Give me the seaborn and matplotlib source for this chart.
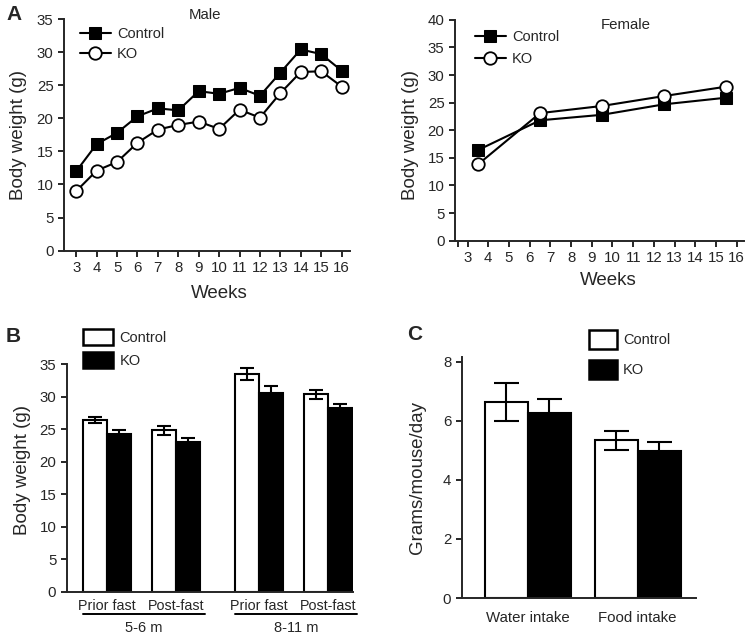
import numpy as np
import pandas as pd
import matplotlib
matplotlib.use("Agg")
import matplotlib.pyplot as plt
import seaborn as sns
from matplotlib.patches import Patch

# ============================================================
# Data
# ============================================================
weeks_male   = [3, 4, 5, 6, 7, 8, 9, 10, 11, 12, 13, 14, 15, 16]
male_control = [12.0, 16.1, 17.8, 20.3, 21.5, 21.2, 24.1, 23.7, 24.6, 23.4, 26.9, 30.4, 29.7, 27.2]
male_ko      = [9.0, 12.1, 13.4, 16.3, 18.3, 19.0, 19.5, 18.4, 21.3, 20.1, 23.8, 27.0, 27.1, 24.8]

weeks_female   = [3.5, 6.5, 9.5, 12.5, 15.5]
female_control = [16.4, 21.8, 22.8, 24.7, 25.9]
female_ko      = [13.8, 23.1, 24.4, 26.2, 27.9]

fast_labels   = ["Prior fast", "Post-fast", "Prior fast", "Post-fast"]
fast_pos      = [0.0, 1.0, 2.2, 3.2]
fast_control  = [26.4, 24.8, 33.5, 30.4]
fast_ctrl_err = [0.5, 0.7, 0.9, 0.7]
fast_ko       = [24.3, 23.1, 30.5, 28.2]
fast_ko_err   = [0.6, 0.6, 1.1, 0.7]
age_groups    = ["5-6 m", "8-11 m"]

intake_labels   = ["Water intake", "Food intake"]
intake_control  = [6.64, 5.34]
intake_ctrl_err = [0.65, 0.33]
intake_ko       = [6.25, 4.99]
intake_ko_err   = [0.49, 0.28]

groups = ["Control", "KO"]

# ============================================================
# Style
# ============================================================
sns.set_style("ticks")
plt.rcParams['font.family'] = ['Liberation Sans', 'DejaVu Sans']
plt.rcParams['axes.linewidth'] = 1.4
plt.rcParams['xtick.major.width'] = 1.4
plt.rcParams['ytick.major.width'] = 1.4
plt.rcParams['xtick.minor.width'] = 1.4
plt.rcParams['xtick.major.size'] = 4
plt.rcParams['xtick.minor.size'] = 4
plt.rcParams['ytick.major.size'] = 4
plt.rcParams['xtick.labelsize'] = 10.8
plt.rcParams['ytick.labelsize'] = 10.8
plt.rcParams['axes.labelsize'] = 13.5

fig = plt.figure(figsize=(7.52, 6.4), dpi=100)
ax_m = fig.add_axes([0.0851, 0.6083, 0.380, 0.362])
ax_f = fig.add_axes([0.605, 0.624, 0.384, 0.345])
ax_b = fig.add_axes([0.0887, 0.0755, 0.381, 0.3555])
ax_c = fig.add_axes([0.614, 0.0656, 0.3115, 0.376])


def line_panel(ax, x, ctrl, ko, ylim, title, tx, ty, leg_anchor, spacing):
    sns.lineplot(x=x, y=ctrl, ax=ax, color='black', linewidth=1.5, marker='s',
                 markersize=8.5, markerfacecolor='black', markeredgecolor='black',
                 label='Control')
    sns.lineplot(x=x, y=ko, ax=ax, color='black', linewidth=1.5, marker='o',
                 markersize=9, markerfacecolor='white', markeredgecolor='black',
                 markeredgewidth=1.3, label='KO')
    ax.set_xlim(2.4, 16.4)
    ax.set_ylim(*ylim)
    ax.set_xticks(range(3, 17))
    ax.set_yticks(np.arange(0, ylim[1] + 1, 5))
    ax.set_xlabel("Weeks")
    ax.set_ylabel("Body weight (g)")
    ax.text(tx, ty, title, transform=ax.transAxes, ha='center', va='center', fontsize=10.8)
    ax.legend(loc='upper left', bbox_to_anchor=leg_anchor, frameon=False, fontsize=10.5,
              borderpad=0, borderaxespad=0, handlelength=2.1, handletextpad=0.45,
              labelspacing=spacing)
    sns.despine(ax=ax)


line_panel(ax_m, weeks_male, male_control, male_ko, (0, 35), "Male", 0.493, 1.017,
           (0.056, 0.965), 0.4)
ax_m.xaxis.set_label_coords(0.545, -0.148)
ax_m.yaxis.set_label_coords(-0.13, 0.5)

line_panel(ax_f, weeks_female, female_control, female_ko, (0, 40), "Female", 0.59, 0.977,
           (0.069, 0.955), 0.55)
ax_f.set_xlim(2.39, 16.34)
ax_f.set_xticks([2.55], minor=True)
ax_f.xaxis.set_label_coords(0.53, -0.142)
ax_f.yaxis.set_label_coords(-0.125, 0.48)


def add_errbars(ax, errs_by_group, capsize):
    for cont, errs in zip(ax.containers, errs_by_group):
        for bar, e in zip(cont, errs):
            xc = bar.get_x() + bar.get_width() / 2
            ax.errorbar(xc, bar.get_height(), yerr=e, color='black', capsize=capsize,
                        elinewidth=1.5, capthick=1.5, zorder=5)


# ============================================================
# B - fasting body weight
# ============================================================
df_b = pd.DataFrame({
    'pos': fast_pos * 2,
    'value': fast_control + fast_ko,
    'group': ['Control'] * 4 + ['KO'] * 4,
})
sns.barplot(data=df_b, x='pos', y='value', hue='group', hue_order=groups,
            native_scale=True, palette=['white', 'black'], edgecolor='black',
            linewidth=1.5, errorbar=None, width=0.7, legend=False, ax=ax_b)
add_errbars(ax_b, [fast_ctrl_err, fast_ko_err], 5)
ax_b.set_xlim(-0.584, 3.565)
ax_b.set_ylim(0, 35)
ax_b.set_yticks(np.arange(0, 36, 5))
ax_b.set_xticks(fast_pos)
ax_b.set_xticklabels(fast_labels, fontsize=10.3)
ax_b.tick_params(axis='x', length=0, pad=5)
ax_b.set_xlabel("")
ax_b.set_ylabel("Body weight (g)")
ax_b.yaxis.set_label_coords(-0.125, 0.535)
sns.despine(ax=ax_b)

trans = ax_b.get_xaxis_transform()
for (a, b), name in zip([(0, 1), (2, 3)], age_groups):
    x0, x1 = fast_pos[a] - 0.35, fast_pos[b] + 0.42
    ax_b.plot([x0, x1], [-0.098, -0.098], color='black', linewidth=1.4,
              transform=trans, clip_on=False)
    ax_b.text((x0 + x1) / 2, -0.16, name, transform=trans, ha='center', va='center',
              fontsize=10.5)

handles = [Patch(facecolor='white', edgecolor='black', linewidth=1.8),
           Patch(facecolor='black', edgecolor='black', linewidth=1.8)]
ax_b.legend(handles, groups, loc='upper left', bbox_to_anchor=(0.057, 1.155),
            frameon=False, fontsize=10.5, borderpad=0, borderaxespad=0,
            handlelength=2.05, handleheight=1.3, handletextpad=0.45, labelspacing=0.5)

# ============================================================
# C - water / food intake
# ============================================================
df_c = pd.DataFrame({
    'kind': intake_labels * 2,
    'value': intake_control + intake_ko,
    'group': ['Control'] * 2 + ['KO'] * 2,
})
sns.barplot(data=df_c, x='kind', y='value', hue='group', hue_order=groups,
            palette=['white', 'black'], edgecolor='black', linewidth=1.5,
            errorbar=None, width=0.78, legend=False, ax=ax_c)
add_errbars(ax_c, [intake_ctrl_err, intake_ko_err], 9)
ax_c.set_xlim(-0.6, 1.53)
ax_c.set_ylim(0, 8.15)
ax_c.set_yticks([0, 2, 4, 6, 8])
ax_c.tick_params(axis='x', length=0, pad=9)
ax_c.set_xlabel("")
ax_c.set_ylabel("Grams/mouse/day")
ax_c.yaxis.set_label_coords(-0.152, 0.5)
sns.despine(ax=ax_c)
ax_c.legend(handles, groups, loc='upper left', bbox_to_anchor=(0.543, 1.115),
            frameon=False, fontsize=10.5, borderpad=0, borderaxespad=0,
            handlelength=1.9, handleheight=1.65, handletextpad=0.45, labelspacing=0.75)

# panel letters
for letter, (px, py) in zip("ABC", [(14, 14), (13, 337), (415, 334)]):
    fig.text(px / 752, 1 - py / 640, letter, ha='center', va='center',
             fontsize=15, fontweight='bold')

fig.savefig("out.png", dpi=100)
